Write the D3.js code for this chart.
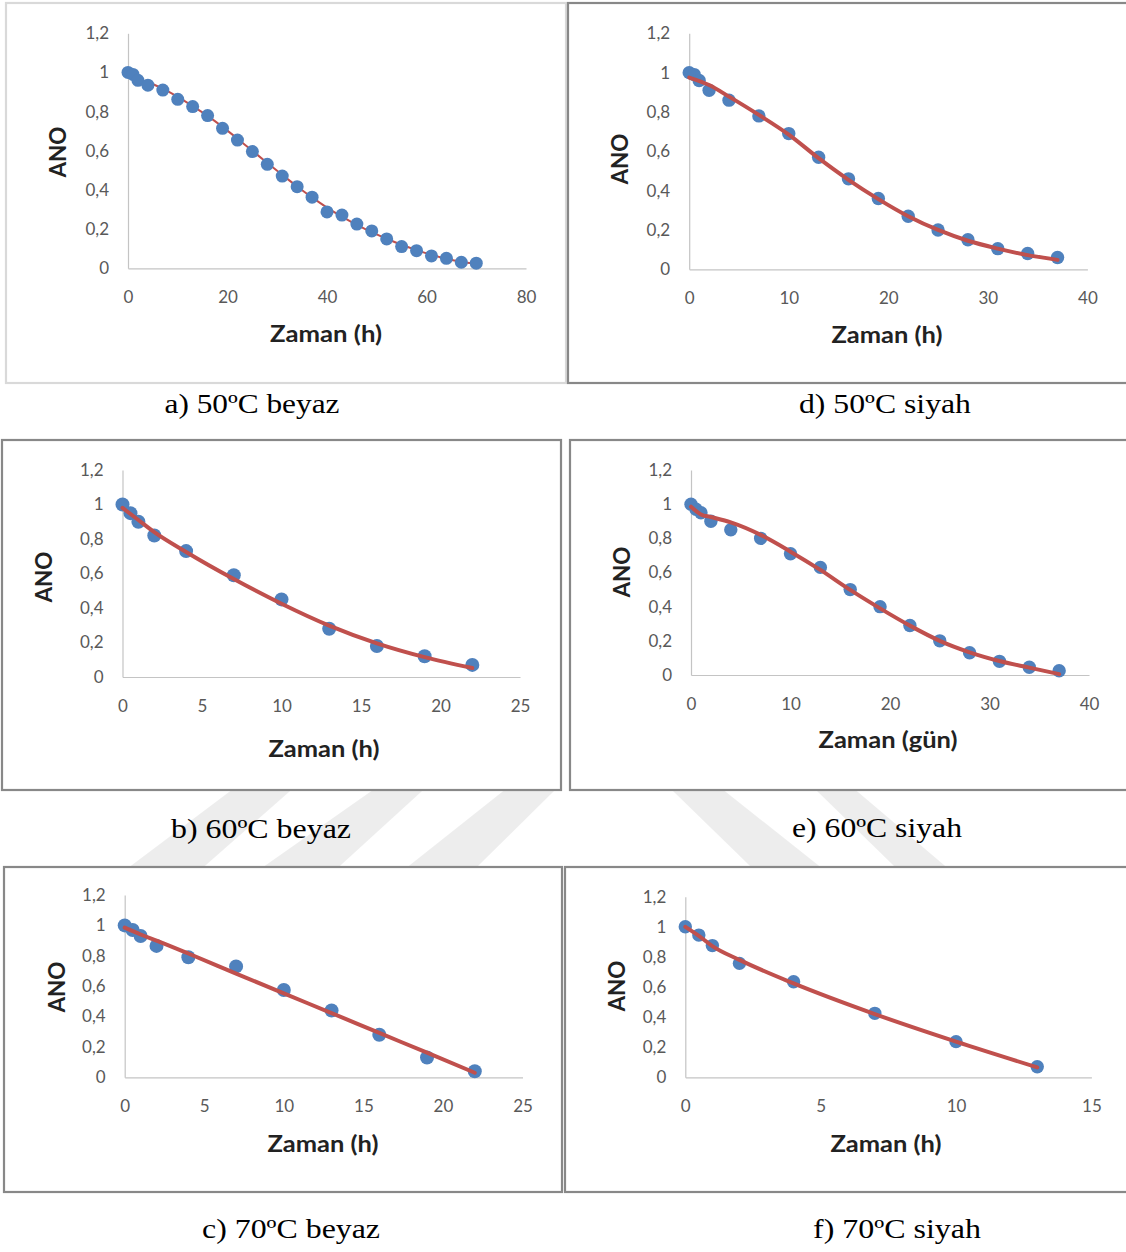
<!DOCTYPE html>
<html>
<head>
<meta charset="utf-8">
<script src="https://cdn.jsdelivr.net/npm/d3@7"></script>
<style>
  body { margin: 0; background: #fff; }
  .chart text { font-family: Lato, "Open Sans", sans-serif; }
  .caption { font-family: "Liberation Serif", "Times New Roman", Times, serif; }
</style>
</head>
<body>
<svg id="fig" width="1126" height="1252"></svg>
<script>
// shared y ticks (ANO)
var yTicks = [0, 0.2, 0.4, 0.6, 0.8, 1, 1.2];
var yTickLabels = ["0", "0,2", "0,4", "0,6", "0,8", "1", "1,2"];

// a) 50ºC beyaz
var timeA = [0, 1, 2, 4, 7, 10, 13, 16, 19, 22, 25, 28, 31, 34, 37, 40, 43, 46, 49, 52, 55, 58, 61, 64, 67, 70];
var anoA = [1.0, 0.99, 0.96, 0.935, 0.91, 0.863, 0.826, 0.78, 0.715, 0.655, 0.596, 0.531, 0.471, 0.417, 0.363, 0.288, 0.272, 0.226, 0.191, 0.15, 0.111, 0.09, 0.063, 0.051, 0.031, 0.026];
var fitA = [0.995, 0.98, 0.968, 0.95, 0.918, 0.875, 0.828, 0.778, 0.722, 0.662, 0.6, 0.538, 0.477, 0.418, 0.362, 0.31, 0.264, 0.222, 0.185, 0.151, 0.12, 0.093, 0.069, 0.049, 0.033, 0.022];
var xTicksA = [0, 20, 40, 60, 80];

// d) 50ºC siyah
var timeD = [0, 0.5, 1, 2, 4, 7, 10, 13, 16, 19, 22, 25, 28, 31, 34, 37];
var anoD = [1.0, 0.99, 0.96, 0.91, 0.86, 0.78, 0.69, 0.57, 0.46, 0.36, 0.27, 0.2, 0.15, 0.105, 0.08, 0.06];
var fitTimeD = [0, 2, 4, 7, 10, 13, 16, 19, 22, 25, 28, 31, 34, 37];
var fitD = [0.975, 0.937, 0.878, 0.785, 0.685, 0.565, 0.455, 0.357, 0.27, 0.2, 0.145, 0.105, 0.072, 0.048];
var xTicksD = [0, 10, 20, 30, 40];

// b) 60ºC beyaz
var timeB = [0, 0.5, 1, 2, 4, 7, 10, 13, 16, 19, 22];
var anoB = [1.0, 0.95, 0.9, 0.82, 0.73, 0.59, 0.45, 0.28, 0.18, 0.12, 0.07];
var fitTimeB = [0, 1, 2, 4, 7, 10, 13, 16, 19, 22];
var fitB = [0.98, 0.91, 0.84, 0.725, 0.568, 0.425, 0.298, 0.195, 0.115, 0.052];
var xTicksB = [0, 5, 10, 15, 20, 25];

// e) 60ºC siyah
var timeE = [0, 0.5, 1, 2, 4, 7, 10, 13, 16, 19, 22, 25, 28, 31, 34, 37];
var anoE = [1.0, 0.97, 0.95, 0.9, 0.85, 0.8, 0.71, 0.63, 0.5, 0.4, 0.29, 0.2, 0.13, 0.08, 0.045, 0.025];
var fitTimeE = [0, 1, 2, 4, 7, 10, 13, 16, 19, 22, 25, 28, 31, 34, 37];
var fitE = [0.985, 0.94, 0.925, 0.893, 0.82, 0.722, 0.615, 0.498, 0.39, 0.289, 0.2, 0.133, 0.082, 0.043, 0.005];
var xTicksE = [0, 10, 20, 30, 40];

// c) 70ºC beyaz
var timeC = [0, 0.5, 1, 2, 4, 7, 10, 13, 16, 19, 22];
var anoC = [1.0, 0.97, 0.93, 0.865, 0.79, 0.73, 0.575, 0.44, 0.28, 0.13, 0.04];
var fitTimeC = [0, 1, 2, 4, 7, 10, 13, 16, 19, 22];
var fitC = [0.985, 0.94, 0.9, 0.815, 0.683, 0.552, 0.423, 0.292, 0.162, 0.03];
var xTicksC = [0, 5, 10, 15, 20, 25];

// f) 70ºC siyah
var timeF = [0, 0.5, 1, 2, 4, 7, 10, 13];
var anoF = [1.0, 0.945, 0.875, 0.757, 0.635, 0.425, 0.237, 0.07];
var fitTimeF = [0, 0.5, 1, 2, 4, 7, 10, 13];
var fitF = [1.0, 0.94, 0.872, 0.78, 0.624, 0.42, 0.237, 0.066];
var xTicksF = [0, 5, 10, 15];

var svg = d3.select("#fig");
svg.append("rect").attr("width", 1126).attr("height", 1252).attr("fill", "#fff");

// panel layout (pixel boxes, plot area, label spots)
var panels = [
  {box: [6, 3, 566, 383], border: "#d9d9d9", plot: [128, 526, 268.3, 33.3], xMax: 80, xTicks: xTicksA,
   t: timeA, v: anoA, ft: timeA, fv: fitA, lineW: 2, lineFirst: true, r: 6.5,
   xTitle: "Zaman (h)", xTitlePos: [326, 342], xTitleLen: 112, anoPos: [58, 152],
   cap: "a) 50ºC beyaz", capPos: [252, 413], capLen: 175},
  {box: [568, 3, 1130, 383], border: "#888", plot: [689.2, 1087.4, 269.3, 33.3], xMax: 40, xTicks: xTicksD,
   t: timeD, v: anoD, ft: fitTimeD, fv: fitD, lineW: 4, lineFirst: false, r: 6.7,
   xTitle: "Zaman (h)", xTitlePos: [887, 343], xTitleLen: 111, anoPos: [620, 159],
   cap: "d) 50ºC siyah", capPos: [885, 413], capLen: 172},
  {box: [2, 440, 561, 790], border: "#888", plot: [122.5, 520, 677, 470], xMax: 25, xTicks: xTicksB,
   t: timeB, v: anoB, ft: fitTimeB, fv: fitB, lineW: 4, lineFirst: false, r: 7,
   xTitle: "Zaman (h)", xTitlePos: [324, 757], xTitleLen: 111, anoPos: [44, 577],
   cap: "b) 60ºC beyaz", capPos: [261, 838], capLen: 180},
  {box: [570, 440, 1130, 790], border: "#888", plot: [691, 1089, 675, 470], xMax: 40, xTicks: xTicksE,
   t: timeE, v: anoE, ft: fitTimeE, fv: fitE, lineW: 4, lineFirst: false, r: 6.7,
   xTitle: "Zaman (gün)", xTitlePos: [888, 748], xTitleLen: 139, anoPos: [622, 572],
   cap: "e) 60ºC siyah", capPos: [877, 837], capLen: 170},
  {box: [4, 867, 562, 1192], border: "#888", plot: [124.7, 522.5, 1077.3, 895], xMax: 25, xTicks: xTicksC,
   t: timeC, v: anoC, ft: fitTimeC, fv: fitC, lineW: 4, lineFirst: false, r: 7,
   xTitle: "Zaman (h)", xTitlePos: [323, 1152], xTitleLen: 111, anoPos: [57, 987],
   cap: "c) 70ºC beyaz", capPos: [291, 1238], capLen: 178},
  {box: [565, 867, 1130, 1192], border: "#888", plot: [685.3, 1091.4, 1077.3, 896.7], xMax: 15, xTicks: xTicksF,
   t: timeF, v: anoF, ft: fitTimeF, fv: fitF, lineW: 4, lineFirst: false, r: 6.7,
   xTitle: "Zaman (h)", xTitlePos: [886, 1152], xTitleLen: 111, anoPos: [617, 986],
   cap: "f) 70ºC siyah", capPos: [897, 1238], capLen: 168}
];

function drawPanel(p) {
  var g = svg.append("g").attr("class", "chart");

  g.append("rect")
    .attr("x", p.box[0]).attr("y", p.box[1])
    .attr("width", p.box[2] - p.box[0]).attr("height", p.box[3] - p.box[1])
    .attr("fill", "#fff").attr("stroke", p.border).attr("stroke-width", 2.2);

  var x = d3.scaleLinear().domain([0, p.xMax]).range([p.plot[0], p.plot[1]]);
  var y = d3.scaleLinear().domain([0, 1.2]).range([p.plot[2], p.plot[3]]);

  var xAxis = g.append("g")
    .attr("transform", `translate(0, ${p.plot[2]})`)
    .call(d3.axisBottom(x).tickValues(p.xTicks).tickSize(0).tickSizeOuter(0).tickPadding(23));

  var yAxis = g.append("g")
    .attr("transform", `translate(${p.plot[0]}, 0)`)
    .call(d3.axisLeft(y).tickValues(yTicks).tickSize(0).tickSizeOuter(0).tickPadding(19)
      .tickFormat((d, i) => yTickLabels[i]));

  [xAxis, yAxis].forEach(function(a) {
    a.select(".domain").attr("stroke", "#c4c4c4").attr("stroke-width", 1.2);
    a.selectAll("text").attr("fill", "#595959").style("font-size", "17px")
      .style("font-family", "Lato, sans-serif");
  });

  var pts = p.t.map((d, i) => ({x: d, y: p.v[i]}));
  var fit = p.ft.map((d, i) => ({x: d, y: p.fv[i]}));

  var line = d3.line()
    .x(d => x(d.x))
    .y(d => y(d.y))
    .curve(d3.curveMonotoneX);

  function drawLine() {
    g.append("path")
      .datum(fit)
      .attr("d", line)
      .attr("fill", "none")
      .attr("stroke", "#c0504d")
      .attr("stroke-width", p.lineW)
      .attr("stroke-linecap", "round");
  }

  if (p.lineFirst) drawLine();

  g.selectAll("circle")
    .data(pts)
    .enter()
    .append("circle")
    .attr("cx", d => x(d.x))
    .attr("cy", d => y(d.y))
    .attr("r", p.r)
    .attr("fill", "#4f81bd");

  if (!p.lineFirst) drawLine();

  // axis titles
  g.append("text")
    .attr("x", p.xTitlePos[0]).attr("y", p.xTitlePos[1])
    .attr("text-anchor", "middle")
    .attr("textLength", p.xTitleLen).attr("lengthAdjust", "spacingAndGlyphs")
    .style("font-size", "22px").style("font-weight", "bold")
    .attr("fill", "#222")
    .text(p.xTitle);

  g.append("text")
    .attr("transform", `translate(${p.anoPos[0]}, ${p.anoPos[1]}) rotate(-90)`)
    .attr("text-anchor", "middle")
    .attr("dy", "0.36em")
    .attr("textLength", 51).attr("lengthAdjust", "spacingAndGlyphs")
    .style("font-size", "23px").style("font-weight", "bold")
    .attr("fill", "#222")
    .text("ANO");

  // caption under the panel
  svg.append("text")
    .attr("class", "caption")
    .attr("x", p.capPos[0]).attr("y", p.capPos[1])
    .attr("text-anchor", "middle")
    .attr("textLength", p.capLen).attr("lengthAdjust", "spacingAndGlyphs")
    .attr("font-size", 27)
    .attr("fill", "#000")
    .text(p.cap);
}

panels.forEach(drawPanel);

// faint watermark stripes between the middle and bottom rows
var stripes = [
  [[229, 289], [132, 206]],
  [[370, 421], [266, 341]],
  [[502, 553], [410, 479]],
  [[674, 726], [749, 818]],
  [[818, 858], [893, 944]]
];
var yA = 792, yB = 865;
var wmTop = 791, wmBot = 866;
function xAt(a, b, yy) { return a + (b - a) * (yy - yA) / (yB - yA); }
svg.append("g")
  .selectAll("polygon")
  .data(stripes)
  .enter()
  .append("polygon")
  .attr("points", function(s) {
    return [
      [xAt(s[0][0], s[1][0], wmTop), wmTop],
      [xAt(s[0][1], s[1][1], wmTop), wmTop],
      [xAt(s[0][1], s[1][1], wmBot), wmBot],
      [xAt(s[0][0], s[1][0], wmBot), wmBot]
    ].join(" ");
  })
  .attr("fill", "#000")
  .attr("fill-opacity", 0.07);
</script>
</body>
</html>
